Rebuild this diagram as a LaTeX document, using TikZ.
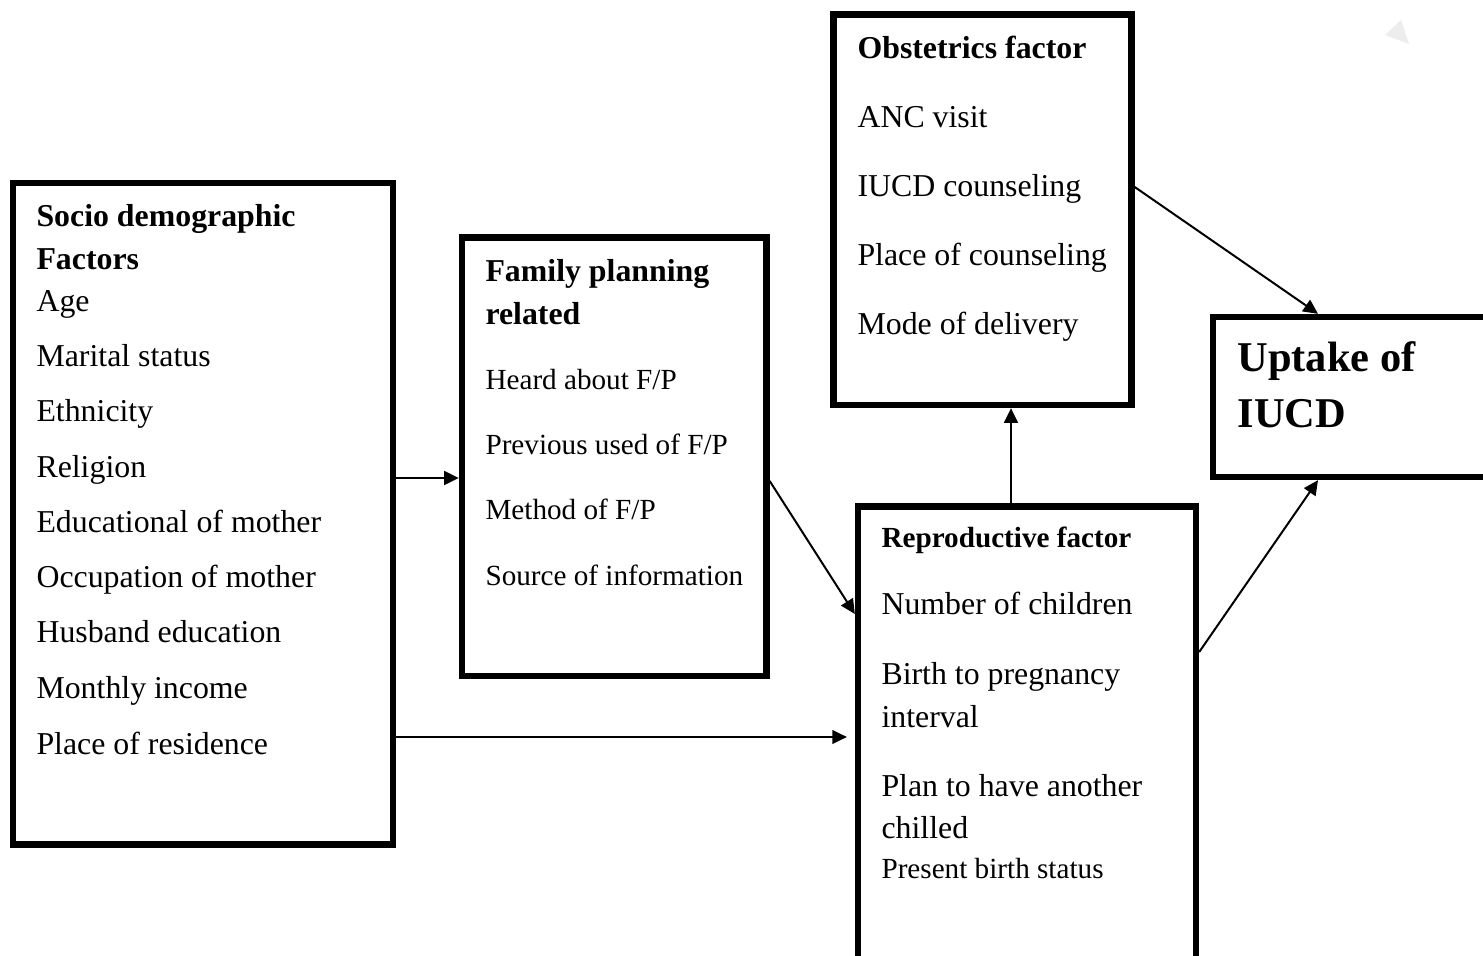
\documentclass[tikz,border=0pt]{standalone}
\usepackage{fontspec}
\setmainfont{Liberation Serif}
\usetikzlibrary{arrows.meta, fit}

\begin{document}
\begin{tikzpicture}[x=0.377pt, y=-0.377pt,
    box/.style={draw, line width=2.4pt, inner sep=0pt},
    txt/.style={anchor=base west, inner sep=0pt, font=\fontsize{12}{14}\selectfont},
    smalltxt/.style={anchor=base west, inner sep=0pt, font=\fontsize{11}{13}\selectfont},
    hd/.style={anchor=base west, inner sep=0pt, font=\fontsize{12}{14}\selectfont\bfseries},
    arr/.style={-{Triangle[length=5.5pt,width=5.2pt]}, line width=0.75pt}]

    \useasboundingbox (0,0) rectangle (1483,956);
    \clip (0,0) rectangle (1483,956);

    % boxes
    \node [box, fit={(13,183) (393,844.5)}] (socio) {};
    \node [box, fit={(462,237.5) (766.5,676)}] (fp) {};
    \node [box, fit={(833.5,14.5) (1131.5,405)}] (obs) {};
    \node [box, fit={(858,506.5) (1196,975)}] (repro) {};
    \node [box, fit={(1213,317) (1500,477)}] (uptake) {};

    % socio demographic
    \node [hd] (s0) at (36,227) {Socio demographic};
    \node [hd] (s1) at (36,270) {Factors};
    \node [txt] (s2) at (36,312) {Age};
    \node [txt] (s3) at (36,367) {Marital status};
    \node [txt] (s4) at (36,422) {Ethnicity};
    \node [txt] (s5) at (36,478) {Religion};
    \node [txt] (s6) at (36,533) {Educational of mother};
    \node [txt] (s7) at (36,588) {Occupation of mother};
    \node [txt] (s8) at (36,643) {Husband education};
    \node [txt] (s9) at (36,699) {Monthly income};
    \node [txt] (s10) at (36,754) {Place of residence};

    % family planning
    \node [hd] (f0) at (485,282) {Family planning};
    \node [hd] (f1) at (485,325) {related};
    \node [smalltxt] (f2) at (485,390) {Heard about F/P};
    \node [smalltxt] (f3) at (485,455) {Previous used of F/P};
    \node [smalltxt] (f4) at (485,520) {Method of F/P};
    \node [smalltxt] (f5) at (485,586) {Source of information};

    % obstetrics
    \node [hd] (o0) at (857,59) {Obstetrics factor};
    \node [txt] (o1) at (857,128) {ANC visit};
    \node [txt] (o2) at (857,197) {IUCD counseling};
    \node [txt] (o3) at (857,266) {Place of counseling};
    \node [txt] (o4) at (857,335) {Mode of delivery};

    % reproductive
    \node [hd, font=\fontsize{11}{13}\selectfont\bfseries] (r0) at (881,548) {Reproductive factor};
    \node [txt] (r1) at (881,615) {Number of children};
    \node [txt] (r2) at (881,685) {Birth to pregnancy};
    \node [txt] (r3) at (881,727) {interval};
    \node [txt] (r4) at (881,797) {Plan to have another};
    \node [txt] (r5) at (881,839) {chilled};
    \node [smalltxt] (r6) at (881,878) {Present birth status};

    % outcome
    \node [hd, font=\fontsize{16}{18}\selectfont\bfseries] (u0) at (1237,372) {Uptake of};
    \node [hd, font=\fontsize{16}{18}\selectfont\bfseries] (u1) at (1237,428) {IUCD};

    % corner mark
    \fill [black!7] (1385,35) -- (1401,20) -- (1409,44) -- cycle;

    \draw [arr] (socio.east |- 0,478) -- (fp.west |- 0,478);
    \draw [arr, shorten >=3pt] (socio.east |- 0,737) -- (repro.west |- 0,737);
    \draw [arr] (fp.east |- 0,481) -- (repro.west |- 0,614);
    \draw [arr] (repro.north -| 1011,0) -- (obs.south -| 1011,0);
    \draw [arr] (obs.east |- 0,187) -- (uptake.north -| 1318,0);
    \draw [arr] (repro.east |- 0,652) -- (uptake.south -| 1318,0);
\end{tikzpicture}
\end{document}
